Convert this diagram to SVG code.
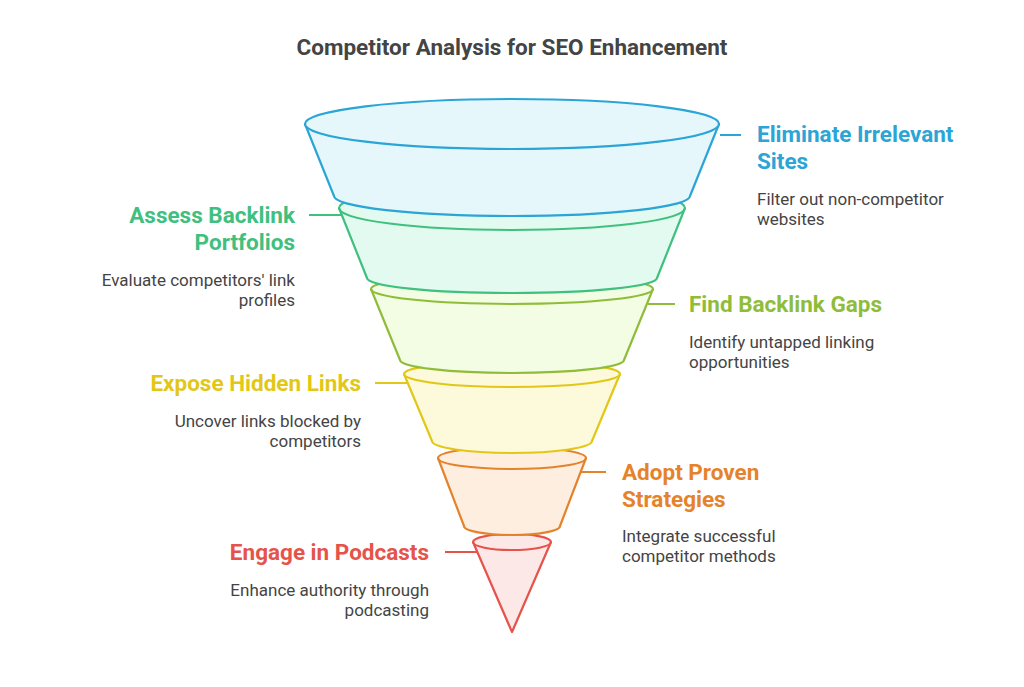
<svg xmlns="http://www.w3.org/2000/svg" width="1024" height="687" viewBox="0 0 1024 687">
<style>
.t{font-family:Roboto,"Liberation Sans",sans-serif}
.h{font-size:22.5px;font-weight:bold}
.d{font-size:17px;fill:#444}
.s{stroke-width:2.2;stroke-linejoin:round}
.c{fill:none;stroke-width:2}
</style>
<rect width="1024" height="687" fill="#fff"/>
<text class="t" x="512" y="55" text-anchor="middle" font-size="22.5" font-weight="bold" fill="#444">Competitor Analysis for SEO Enhancement</text>
<g id="layer6"><path class="s" d="M473,542 L512,632 L551,542 A39,8 0 0 0 473,542 Z" fill="#fde8e8" stroke="#e5534b"/><path class="c" d="M473,542 A39,8 0 0 0 551,542" stroke="#e5534b"/></g>
<g id="layer5"><path class="s" d="M438,458 L464,526 A48,9 0 0 0 560,526 L586,458 A74,11 0 0 0 438,458 Z" fill="#fdeee0" stroke="#e5832b"/><path class="c" d="M438,458 A74,11 0 0 0 586,458" stroke="#e5832b"/></g>
<g id="layer4"><path class="s" d="M404,374 L432,441 A80,12 0 0 0 592,441 L620,374 A108,13 0 0 0 404,374 Z" fill="#fdf9db" stroke="#e3c716"/><path class="c" d="M404,374 A108,13 0 0 0 620,374" stroke="#e3c716"/></g>
<g id="layer3"><path class="s" d="M371,289 L400,360 A112,13 0 0 0 624,360 L653,289 A141,15 0 0 0 371,289 Z" fill="#f2fde3" stroke="#8fbd3a"/><path class="c" d="M371,289 A141,15 0 0 0 653,289" stroke="#8fbd3a"/></g>
<g id="layer2"><path class="s" d="M339,208 L367,278 A145,15 0 0 0 657,278 L685,208 A173,22 0 0 0 339,208 Z" fill="#e3faf0" stroke="#3fc07f"/><path class="c" d="M339,208 A173,22 0 0 0 685,208" stroke="#3fc07f"/></g>
<g id="layer1"><path class="s" d="M305,124 L334,196 A178,20 0 0 0 690,196 L719,124 Z" fill="#e6f7fc" stroke="#2ba5d6"/><ellipse class="s" cx="512" cy="124" rx="207" ry="25" fill="#e6f7fc" stroke="#2ba5d6"/></g>
<g id="connectors">
<line class="c" x1="720" y1="135" x2="741" y2="135" stroke="#2ba5d6"/>
<line class="c" x1="309" y1="215" x2="341" y2="215" stroke="#3fc07f"/>
<line class="c" x1="648" y1="304" x2="675" y2="304" stroke="#8fbd3a"/>
<line class="c" x1="375" y1="383" x2="408" y2="383" stroke="#e3c716"/>
<line class="c" x1="581" y1="472" x2="606" y2="472" stroke="#e5832b"/>
<line class="c" x1="445" y1="552" x2="478" y2="552" stroke="#e5534b"/>
</g>
<g id="labels" class="t">
<text class="t h" x="757" y="142" fill="#2ba5d6">Eliminate Irrelevant</text>
<text class="t h" x="757" y="169" fill="#2ba5d6">Sites</text>
<text class="t d" x="757" y="205">Filter out non-competitor</text>
<text class="t d" x="757" y="225">websites</text>
<text class="t h" x="295" y="223" text-anchor="end" fill="#3fc07f">Assess Backlink</text>
<text class="t h" x="295" y="250" text-anchor="end" fill="#3fc07f">Portfolios</text>
<text class="t d" x="295" y="286" text-anchor="end">Evaluate competitors' link</text>
<text class="t d" x="295" y="306" text-anchor="end">profiles</text>
<text class="t h" x="689" y="312" fill="#8fbd3a">Find Backlink Gaps</text>
<text class="t d" x="689" y="348">Identify untapped linking</text>
<text class="t d" x="689" y="368">opportunities</text>
<text class="t h" x="361" y="391" text-anchor="end" fill="#e3c716">Expose Hidden Links</text>
<text class="t d" x="361" y="427" text-anchor="end">Uncover links blocked by</text>
<text class="t d" x="361" y="447" text-anchor="end">competitors</text>
<text class="t h" x="622" y="480" fill="#e5832b">Adopt Proven</text>
<text class="t h" x="622" y="507" fill="#e5832b">Strategies</text>
<text class="t d" x="622" y="542">Integrate successful</text>
<text class="t d" x="622" y="562">competitor methods</text>
<text class="t h" x="429" y="560" text-anchor="end" fill="#e5534b">Engage in Podcasts</text>
<text class="t d" x="429" y="596" text-anchor="end">Enhance authority through</text>
<text class="t d" x="429" y="616" text-anchor="end">podcasting</text>
</g>
</svg>
